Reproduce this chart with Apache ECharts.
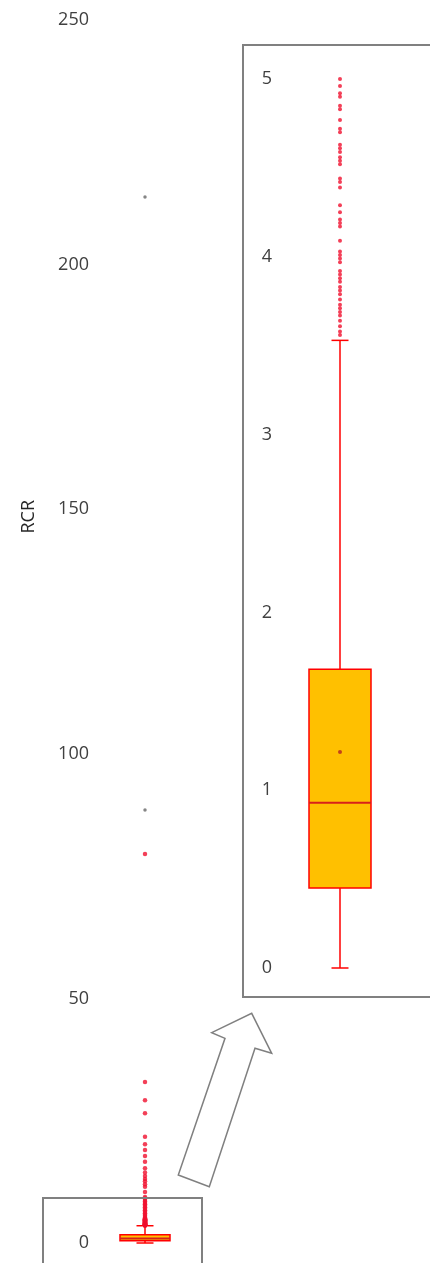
<!DOCTYPE html>
<html>
<head>
<meta charset="utf-8">
<script src="https://cdn.jsdelivr.net/npm/echarts@6/dist/echarts.min.js"></script>
<style>
  html, body { margin: 0; padding: 0; background: #ffffff; }
  #chart { width: 430px; height: 1263px; }
</style>
</head>
<body>
<div id="chart"></div>
<script>
// RCR distribution: five-number summary, mean and outliers
const categories = ['RCR'];
const boxStats = [0, 0.45, 0.93, 1.68, 3.53];   // min, Q1, median, Q3, upper whisker
const meanValue = 1.215;
const outliers = [
  3.56, 3.58, 3.61, 3.64, 3.67, 3.69, 3.71, 3.73, 3.76, 3.79, 3.81, 3.83, 3.86,
  3.88, 3.90, 3.92, 3.97, 3.99, 4.01, 4.03, 4.09, 4.17, 4.19, 4.21, 4.25, 4.29,
  4.39, 4.42, 4.44, 4.52, 4.54, 4.56, 4.59, 4.61, 4.63, 4.70, 4.72, 4.77, 4.83,
  4.85, 4.90, 4.92, 4.96, 5.00,
  5.2, 5.5, 5.8, 6.1, 6.4, 6.7, 7.0, 7.3, 7.6, 7.9, 8.2, 8.5, 8.8, 9.1, 9.4,
  10.4, 11.5, 12.0, 12.6, 13.1, 13.7, 14.4, 15.3, 16.6, 17.8, 19.0, 20.2, 21.7,
  26.5, 29.2, 32.9, 79.5
];
const greyOutliers = [88.5, 213.8];
const mainTicks = { min: 0, max: 250, interval: 50 };
const zoomTicks = { min: 0, max: 5, interval: 1 };

const RED = '#FF0000';
const DOT = '#F0102E';
const GOLD = '#FFC000';
const LABEL = '#404040';
const FONT = 'Open Sans';

// box + whiskers drawn through the axis scales
function boxRenderer(boxWidth, capWidth) {
  return function (params, api) {
    const x = api.value(0);
    const v = [1, 2, 3, 4, 5].map(i => api.value(i));
    const p = v.map(val => api.coord([x, val]));
    const cx = p[0][0];
    const hw = boxWidth / 2, hc = capWidth / 2;
    const lineStyle = { stroke: RED, lineWidth: 1.5 };
    return {
      type: 'group',
      children: [
        { type: 'line', shape: { x1: cx, y1: p[0][1], x2: cx, y2: p[1][1] }, style: lineStyle },
        { type: 'line', shape: { x1: cx, y1: p[3][1], x2: cx, y2: p[4][1] }, style: lineStyle },
        { type: 'line', shape: { x1: cx - hc, y1: p[0][1], x2: cx + hc, y2: p[0][1] }, style: lineStyle },
        { type: 'line', shape: { x1: cx - hc, y1: p[4][1], x2: cx + hc, y2: p[4][1] }, style: lineStyle },
        { type: 'rect', shape: { x: cx - hw, y: p[3][1], width: boxWidth, height: p[1][1] - p[3][1] },
          style: { fill: GOLD, stroke: RED, lineWidth: 1.5 } },
        { type: 'line', shape: { x1: cx - hw, y1: p[2][1], x2: cx + hw, y2: p[2][1] },
          style: { stroke: '#D8201A', lineWidth: 2 } }
      ]
    };
  };
}

const boxRow = [[0].concat(boxStats)];
const outlierPts = outliers.map(v => [0, v]);
const greyPts = greyOutliers.map(v => [0, v]);
const meanPts = [[0, meanValue]];

function yAxisFor(ticks, gridIndex) {
  return {
    type: 'value', gridIndex: gridIndex,
    min: ticks.min, max: ticks.max, interval: ticks.interval,
    axisLine: { show: false }, axisTick: { show: false },
    splitLine: { show: false },
    axisLabel: { color: LABEL, fontFamily: FONT, fontSize: 18, margin: 11 }
  };
}
function xAxisFor(gridIndex) {
  return {
    type: 'category', gridIndex: gridIndex, data: categories,
    axisLine: { show: false }, axisTick: { show: false },
    axisLabel: { show: false }, splitLine: { show: false }
  };
}

const chart = echarts.init(document.getElementById('chart'), null, { renderer: 'canvas' });
chart.setOption({
  backgroundColor: '#ffffff',
  animation: false,
  grid: [
    { left: 100, width: 90, top: 20, bottom: 20 },
    { left: 283, width: 114, top: 79, height: 889 }
  ],
  xAxis: [xAxisFor(0), xAxisFor(1)],
  yAxis: [yAxisFor(mainTicks, 0), yAxisFor(zoomTicks, 1)],
  graphic: [
    { type: 'text', left: 20, top: 500, rotation: Math.PI / 2,
      style: { text: 'RCR', fill: '#262626', font: '18px "Open Sans"' } },
    { type: 'rect', shape: { x: 243, y: 45, width: 200, height: 952 },
      style: { fill: 'none', stroke: '#808080', lineWidth: 2 }, z: 10 },
    { type: 'rect', shape: { x: 43, y: 1198, width: 159, height: 80 },
      style: { fill: 'none', stroke: '#808080', lineWidth: 2 }, z: 10 },
    { type: 'polygon', z: 10,
      shape: { points: [[178.3, 1175], [225, 1038.3], [211.7, 1032.7], [251.7, 1013.3],
                        [271.7, 1053.3], [255, 1048.3], [209.3, 1186.7]] },
      style: { fill: '#ffffff', stroke: '#808080', lineWidth: 1.5 } }
  ],
  series: [
    { type: 'custom', xAxisIndex: 0, yAxisIndex: 0, data: boxRow,
      renderItem: boxRenderer(50, 17), encode: { x: 0, y: [1, 2, 3, 4, 5] }, z: 2 },
    { type: 'scatter', xAxisIndex: 0, yAxisIndex: 0, data: outlierPts,
      symbolSize: 4.5, itemStyle: { color: DOT }, z: 3 },
    { type: 'scatter', xAxisIndex: 0, yAxisIndex: 0, data: greyPts,
      symbolSize: 3.5, itemStyle: { color: '#666666' }, z: 3 },
    { type: 'custom', xAxisIndex: 1, yAxisIndex: 1, data: boxRow,
      renderItem: boxRenderer(62, 17), encode: { x: 0, y: [1, 2, 3, 4, 5] }, z: 2 },
    { type: 'scatter', xAxisIndex: 1, yAxisIndex: 1, data: outlierPts, clip: true,
      symbolSize: 4, itemStyle: { color: DOT }, z: 3 },
    { type: 'scatter', xAxisIndex: 1, yAxisIndex: 1, data: meanPts,
      symbolSize: 4, itemStyle: { color: '#B22222' }, z: 4 }
  ]
});
</script>
</body>
</html>
